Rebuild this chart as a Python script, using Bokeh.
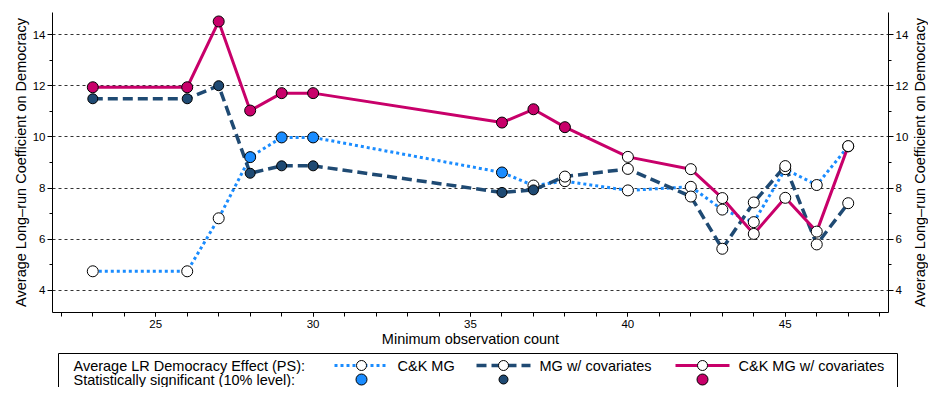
import math
from bokeh.plotting import figure
from bokeh.models import Range1d, LinearAxis, FixedTicker, SingleIntervalTicker
from bokeh.layouts import column, row
from bokeh.core.properties import value
from bokeh.embed import file_html
from bokeh.resources import INLINE

# ---------------- data ----------------
min_obs = [23, 26, 27, 28, 29, 30, 36, 37, 38, 40, 42, 43, 44, 45, 46, 47]
ck_mg = [4.75, 4.75, 6.82, 9.21, 9.98, 9.98, 8.61, 8.10, 8.27, 7.91, 8.05, 7.16, 6.67, 8.74, 8.12, 9.63]
mg_cov = [11.49, 11.49, 12.00, 8.58, 8.87, 8.87, 7.83, 7.93, 8.45, 8.75, 7.67, 5.63, 7.44, 8.86, 5.80, 7.41]
ck_mg_cov = [11.94, 11.94, 14.51, 11.03, 11.71, 11.71, 10.56, 11.08, 10.38, 9.22, 8.74, 7.61, 6.21, 7.62, 6.30, 9.64]
ck_mg_sig = [0, 0, 0, 1, 1, 1, 1, 0, 0, 0, 0, 0, 0, 0, 0, 0]
mg_cov_sig = [1, 1, 1, 1, 1, 1, 1, 1, 0, 0, 0, 0, 0, 0, 0, 0]
ck_mg_cov_sig = [1, 1, 1, 1, 1, 1, 1, 1, 1, 0, 0, 0, 0, 0, 0, 0]

series_names = ["C&K MG", "MG w/ covariates", "C&K MG w/ covariates"]
legend_row1 = "Average LR Democracy Effect (PS):"
legend_row2 = "Statistically significant (10% level):"
y_ticks = [4, 6, 8, 10, 12, 14]
y_minor = [5, 7, 9, 11, 13]
x_label = "Minimum observation count"
y_label = "Average Long\u2013run Coefficient on Democracy"

# ---------------- style / layout ----------------
FONT = "Liberation Sans"
BLUE = "#1a8cff"
NAVY = "#1f4a73"
MAG = "#c8006a"

W = 928                 # total width
WP, WS = 911, 17        # main plot width, right-title strip width
H1, H2 = 350, 37        # main plot height, legend strip height
BL, BRP = 52, 21        # main plot left / right borders
TOP, BOT = 12, 38
FRAME_H = H1 - TOP - BOT

p = figure(width=WP, height=H1,
           x_range=Range1d(21.72, 48.28), y_range=Range1d(3.14, 14.86),
           output_backend="svg", toolbar_location=None,
           min_border_left=BL, min_border_right=BRP,
           min_border_top=TOP, min_border_bottom=BOT)
p.outline_line_color = None
p.xgrid.visible = False

yt = FixedTicker(ticks=y_ticks, minor_ticks=y_minor)
xt = SingleIntervalTicker(interval=5, num_minor_ticks=5)

def style_axis(ax, ticker, label, ymode=True):
    ax.ticker = ticker
    ax.axis_label = label
    ax.axis_label_text_font = FONT
    ax.axis_label_text_font_size = "14.5px"
    ax.axis_label_text_font_style = "normal"
    ax.axis_label_text_color = "black"
    ax.major_label_text_font = FONT
    ax.major_label_text_font_size = "11.5px"
    ax.major_label_text_color = "black"
    ax.axis_line_color = "black"
    ax.major_tick_line_color = "black"
    ax.minor_tick_line_color = "black"
    ax.major_tick_in = 0
    ax.minor_tick_in = 0
    if ymode:
        ax.major_tick_out = 5
        ax.minor_tick_out = 3
        ax.major_label_standoff = 2
        ax.axis_label_standoff = 1
    else:
        ax.major_tick_out = 4
        ax.minor_tick_out = 4
        ax.major_label_standoff = 3
        ax.axis_label_standoff = 0

style_axis(p.xaxis[0], xt, x_label, ymode=False)
style_axis(p.yaxis[0], yt, y_label)
ra = LinearAxis()
style_axis(ra, yt, None)
p.add_layout(ra, "right")

p.ygrid.ticker = yt
p.ygrid.grid_line_color = "#333333"
p.ygrid.grid_line_dash = "3 3"
p.ygrid.grid_line_width = 1

# lines
p.line(min_obs, ck_mg, line_color=BLUE, line_width=3, line_dash="3 3")
p.line(min_obs, mg_cov, line_color=NAVY, line_width=3.5, line_dash="10 5")
p.line(min_obs, ck_mg_cov, line_color=MAG, line_width=3)

# markers
for vals, sig, col, ssize in [(ck_mg, ck_mg_sig, BLUE, 11),
                              (mg_cov, mg_cov_sig, NAVY, 10),
                              (ck_mg_cov, ck_mg_cov_sig, MAG, 11)]:
    fills = [col if s else "white" for s in sig]
    sizes = [ssize if s else 11 for s in sig]
    p.scatter(min_obs, vals, marker="circle", size=sizes,
              fill_color=fills, line_color="black", line_width=1)

# ---------------- right-hand axis title strip (coordinates = picture pixels) ----------------
side = figure(width=WS, height=H1,
              x_range=Range1d(WP, W), y_range=Range1d(TOP + FRAME_H, TOP),
              output_backend="svg", toolbar_location=None,
              min_border_left=0, min_border_right=0, min_border_top=TOP, min_border_bottom=BOT,
              x_axis_location=None, y_axis_location=None)
side.outline_line_color = None
side.xgrid.visible = False
side.ygrid.visible = False
side.text(x=[WP + WS / 2], y=[TOP + FRAME_H / 2], text=[y_label], angle=math.pi / 2,
          text_font=value(FONT), text_font_size="14.5px", text_align="center",
          text_baseline="middle", text_color="black")

# ---------------- legend strip (coordinates = picture pixels) ----------------
LBL, LBR = 52, 28
lg = figure(width=W, height=H2,
            x_range=Range1d(LBL, W - LBR), y_range=Range1d(H1 + H2, H1),
            output_backend="svg", toolbar_location=None,
            min_border_left=LBL, min_border_right=LBR, min_border_top=0, min_border_bottom=0,
            x_axis_location=None, y_axis_location=None)
lg.outline_line_color = None
lg.xgrid.visible = False
lg.ygrid.visible = False

row1_y, row2_y = 365, 379
lg.quad(left=[58], right=[897], top=[353], bottom=[420],
        fill_color=None, line_color="black", line_width=1)
lg.text(x=[73, 73], y=[row1_y, row2_y], text=[legend_row1, legend_row2],
        text_font=value(FONT), text_font_size="14.5px", text_baseline="middle",
        text_align="left", text_color="black")

key_x = [361, 503, 702]
key_colors = [BLUE, NAVY, MAG]
key_dash = ["3 3", "10 5", "solid"]
key_width = [3, 3.5, 3]
sig_sizes = [11, 9, 11]
for i in range(3):
    lg.segment(x0=[key_x[i] - 27], y0=[row1_y], x1=[key_x[i] + 27], y1=[row1_y],
               line_color=key_colors[i], line_width=key_width[i], line_dash=key_dash[i])
lg.scatter(key_x, [row1_y] * 3, marker="circle", size=10, fill_color="white",
           line_color="black", line_width=1)
lg.scatter(key_x, [row2_y] * 3, marker="circle", size=sig_sizes, fill_color=key_colors,
           line_color="black", line_width=1)
lg.text(x=[k + 36 for k in key_x], y=[row1_y] * 3, text=series_names,
        text_font=value(FONT), text_font_size="14.5px", text_baseline="middle",
        text_align="left", text_color="black")

layout = column(row(p, side, spacing=0), lg, spacing=0)
open("out.html", "w").write(file_html(layout, INLINE))
